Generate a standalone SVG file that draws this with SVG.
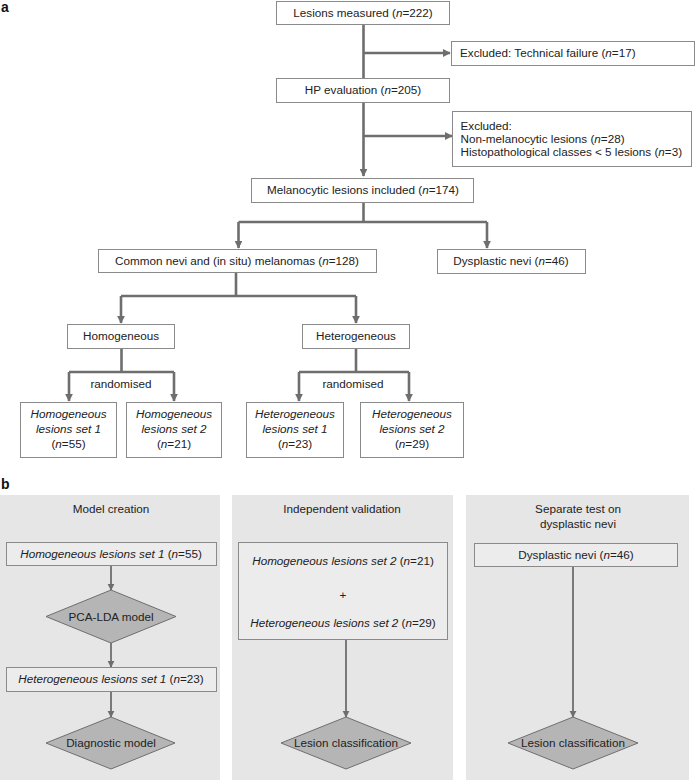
<svg xmlns="http://www.w3.org/2000/svg" width="696" height="781" viewBox="0 0 696 781">
<defs>
<marker id="ah" viewBox="0 0 10 10" refX="9" refY="5" markerWidth="3" markerHeight="3" orient="auto" markerUnits="strokeWidth">
<path d="M0,0 L10,5 L0,10 z" fill="#6e6e6e"/>
</marker>
<marker id="ahs" viewBox="0 0 10 10" refX="9" refY="5" markerWidth="4" markerHeight="4" orient="auto" markerUnits="strokeWidth">
<path d="M0,0 L10,5 L0,10 z" fill="#6e6e6e"/>
</marker>
</defs>
<style>
text{font-family:"Liberation Sans",Arial,sans-serif;font-size:11.7px;fill:#222;}
.c{text-anchor:middle;}
.i{font-style:italic;}
.lbl{font-weight:bold;font-size:14px;fill:#111;}
.box{fill:#fff;stroke:#8a8a8a;stroke-width:1;}
.pbox{fill:#ececec;stroke:#8a8a8a;stroke-width:1;}
.panel{fill:#e6e6e6;stroke:none;}
.dia{fill:#b5b5b5;stroke:#6e6e6e;stroke-width:1;}
.ln{fill:none;stroke:#6e6e6e;stroke-width:2.6;}
.lnb{fill:none;stroke:#6e6e6e;stroke-width:1.8;}
</style>
<rect width="696" height="781" fill="#fff"/>
<text class="lbl" x="1" y="12">a</text>
<text class="lbl" x="1" y="489">b</text>

<g id="panels">
<rect class="panel" x="0" y="495" width="220" height="285"/>
<rect class="panel" x="232" y="495" width="221" height="285"/>
<rect class="panel" x="466" y="495" width="223" height="285"/>
</g>

<g id="connectors">
<path class="ln" d="M363.5,24.5 V176" marker-end="url(#ah)"/>
<path class="ln" d="M363.5,53 H450" marker-end="url(#ah)"/>
<path class="ln" d="M363.5,136 H452" marker-end="url(#ah)"/>
<path class="ln" d="M363.5,202 V222 M238.5,222 H487"/>
<path class="ln" d="M238.5,222 V248" marker-end="url(#ah)"/>
<path class="ln" d="M487,222 V248" marker-end="url(#ah)"/>
<path class="ln" d="M236,272 V296 M121,296 H356"/>
<path class="ln" d="M121,296 V323" marker-end="url(#ah)"/>
<path class="ln" d="M356,296 V323" marker-end="url(#ah)"/>
<path class="ln" d="M121.5,348 V372 M69,372 H174"/>
<path class="ln" d="M69,372 V401" marker-end="url(#ah)"/>
<path class="ln" d="M174,372 V401" marker-end="url(#ah)"/>
<path class="ln" d="M356,348 V372 M299,372 H409"/>
<path class="ln" d="M299,372 V401" marker-end="url(#ah)"/>
<path class="ln" d="M409,372 V401" marker-end="url(#ah)"/>
<path class="lnb" d="M111,565 V590" marker-end="url(#ahs)"/>
<path class="lnb" d="M111,643 V667" marker-end="url(#ahs)"/>
<path class="lnb" d="M111,691 V717" marker-end="url(#ahs)"/>
<path class="lnb" d="M346,639 V717" marker-end="url(#ahs)"/>
<path class="lnb" d="M573,566 V717" marker-end="url(#ahs)"/>
</g>

<g id="n-measured"><rect class="box" x="276.5" y="1.5" width="173" height="23"/>
<text class="c" x="363" y="17">Lesions measured (<tspan class="i">n</tspan>=222)</text></g>
<g id="n-excl1"><rect class="box" x="451.5" y="41.5" width="243" height="24"/>
<text x="460" y="57">Excluded: Technical failure (<tspan class="i">n</tspan>=17)</text></g>
<g id="n-hp"><rect class="box" x="276.5" y="78.5" width="173" height="24"/>
<text class="c" x="363" y="94">HP evaluation (<tspan class="i">n</tspan>=205)</text></g>
<g id="n-excl2"><rect class="box" x="452.5" y="111.5" width="239" height="55"/>
<text x="460.5" y="130">Excluded:</text>
<text x="460.5" y="143">Non-melanocytic lesions (<tspan class="i">n</tspan>=28)</text>
<text x="460.5" y="156">Histopathological classes &lt; 5 lesions (<tspan class="i">n</tspan>=3)</text></g>
<g id="n-melan"><rect class="box" x="251.5" y="178.5" width="222" height="24"/>
<text class="c" x="363" y="194">Melanocytic lesions included (<tspan class="i">n</tspan>=174)</text></g>
<g id="n-common"><rect class="box" x="98.5" y="249.5" width="278" height="23"/>
<text class="c" x="237" y="265">Common nevi and (in situ) melanomas (<tspan class="i">n</tspan>=128)</text></g>
<g id="n-dys"><rect class="box" x="437.5" y="249.5" width="148" height="24"/>
<text class="c" x="511" y="265">Dysplastic nevi (<tspan class="i">n</tspan>=46)</text></g>
<g id="n-homo"><rect class="box" x="67.5" y="324.5" width="107" height="24"/>
<text class="c" x="121" y="340">Homogeneous</text></g>
<g id="n-hetero"><rect class="box" x="302.5" y="324.5" width="107" height="24"/>
<text class="c" x="356" y="340">Heterogeneous</text></g>
<text class="c" x="121" y="388">randomised</text>
<text class="c" x="353" y="388">randomised</text>
<g id="n-h1"><rect class="box" x="20.5" y="402.5" width="96" height="55"/>
<text class="c i" x="68.5" y="418">Homogeneous</text><text class="c i" x="68.5" y="433">lesions set 1</text>
<text class="c" x="68.5" y="448">(<tspan class="i">n</tspan>=55)</text></g>
<g id="n-h2"><rect class="box" x="126.5" y="402.5" width="95" height="55"/>
<text class="c i" x="174" y="418">Homogeneous</text><text class="c i" x="174" y="433">lesions set 2</text>
<text class="c" x="174" y="448">(<tspan class="i">n</tspan>=21)</text></g>
<g id="n-he1"><rect class="box" x="246.5" y="402.5" width="97" height="55"/>
<text class="c i" x="295" y="418">Heterogeneous</text><text class="c i" x="295" y="433">lesions set 1</text>
<text class="c" x="295" y="448">(<tspan class="i">n</tspan>=23)</text></g>
<g id="n-he2"><rect class="box" x="360.5" y="402.5" width="103" height="55"/>
<text class="c i" x="412" y="418">Heterogeneous</text><text class="c i" x="412" y="433">lesions set 2</text>
<text class="c" x="412" y="448">(<tspan class="i">n</tspan>=29)</text></g>

<text class="c" x="111" y="513">Model creation</text>
<text class="c" x="342" y="513">Independent validation</text>
<text class="c" x="578" y="513">Separate test on</text>
<text class="c" x="578" y="528">dysplastic nevi</text>

<g id="b-h1"><rect class="pbox" x="6.5" y="542.5" width="210" height="23"/>
<text class="c" x="111" y="558"><tspan class="i">Homogeneous lesions set 1</tspan> (<tspan class="i">n</tspan>=55)</text></g>
<g id="b-pca"><polygon class="dia" points="111,590 176,616.5 111,643 46,616.5"/>
<text class="c" x="111" y="620.5">PCA-LDA model</text></g>
<g id="b-he1"><rect class="pbox" x="6.5" y="667.5" width="210" height="24"/>
<text class="c" x="111" y="683"><tspan class="i">Heterogeneous lesions set 1</tspan> (<tspan class="i">n</tspan>=23)</text></g>
<g id="b-diag"><polygon class="dia" points="111,717 175,743 111,769 46,743"/>
<text class="c" x="111" y="747">Diagnostic model</text></g>
<g id="b-val"><rect class="pbox" x="238.5" y="542.5" width="209" height="97"/>
<text class="c" x="343" y="565"><tspan class="i">Homogeneous lesions set 2</tspan> (<tspan class="i">n</tspan>=21)</text>
<text class="c" x="343" y="599">+</text>
<text class="c" x="343" y="627"><tspan class="i">Heterogeneous lesions set 2</tspan> (<tspan class="i">n</tspan>=29)</text></g>
<g id="b-cls1"><polygon class="dia" points="346,717 411,743 346,769 281,743"/>
<text class="c" x="346" y="747">Lesion classification</text></g>
<g id="b-dys"><rect class="pbox" x="474.5" y="543.5" width="203" height="23"/>
<text class="c" x="576" y="559">Dysplastic nevi (<tspan class="i">n</tspan>=46)</text></g>
<g id="b-cls2"><polygon class="dia" points="573,717 638,743 573,769 508,743"/>
<text class="c" x="573" y="747">Lesion classification</text></g>
</svg>
